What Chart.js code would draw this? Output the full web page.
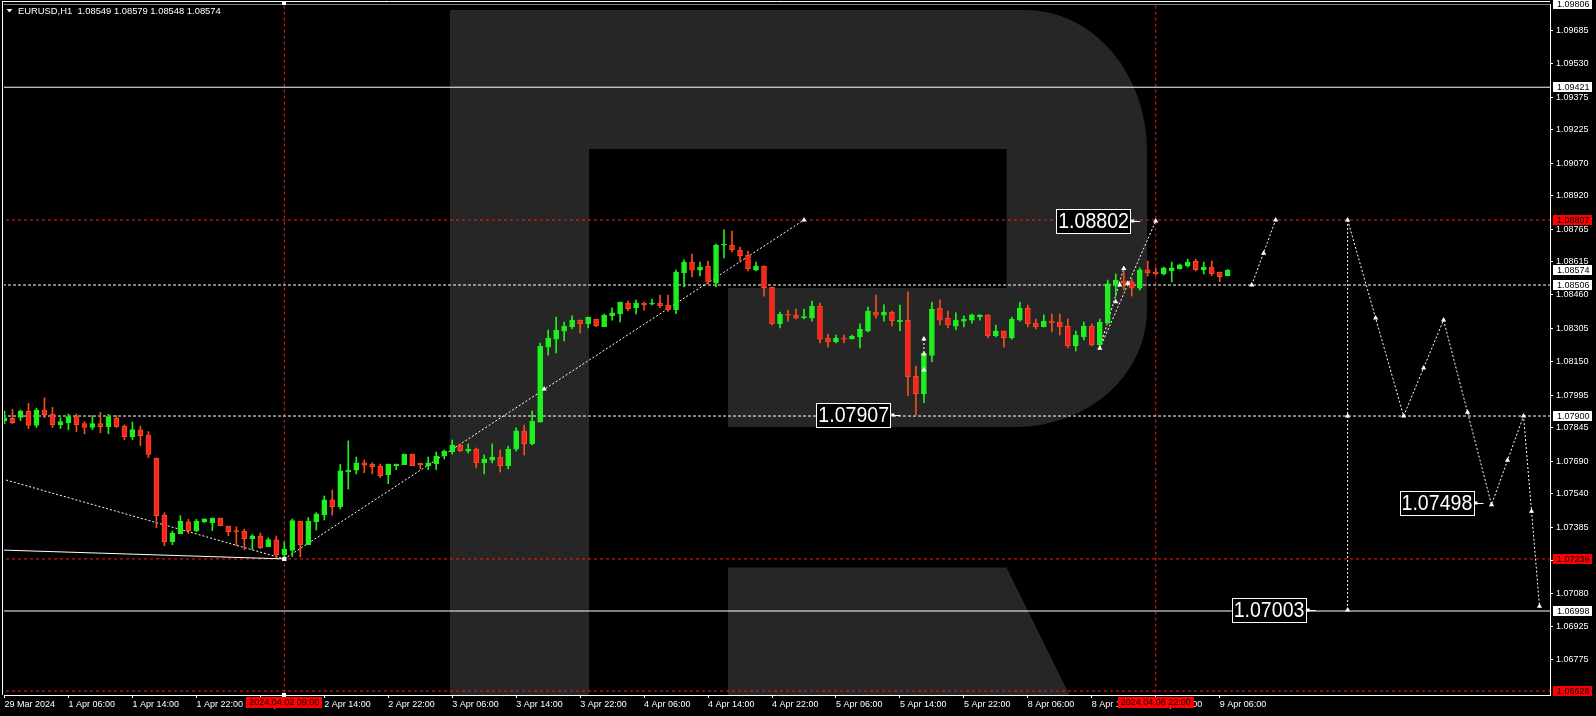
<!DOCTYPE html>
<html><head><meta charset="utf-8">
<script src="https://cdn.jsdelivr.net/npm/chart.js@4.4.1/dist/chart.umd.min.js"></script>
<style>html,body{margin:0;padding:0;background:#000;overflow:hidden}canvas{display:block}</style>
</head><body>
<canvas id="c" width="1596" height="716"></canvas>
<script>
// ---------- DATA ----------
const symbolTitle = 'EURUSD,H1  1.08549 1.08579 1.08548 1.08574';
// H1 bars, index 0 = 29 Mar 2024 22:00 (weekend skipped)
const opens = [1.07879,1.07889,1.07894,1.07923,1.07856,1.07928,1.07909,1.07860,1.07869,1.07897,
1.07865,1.07847,1.07865,1.07851,1.07891,1.07854,1.07805,1.07836,1.07812,1.07706,
1.07442,1.07319,1.07356,1.07410,1.07370,1.07411,1.07407,1.07428,1.07391,1.07368,
1.07368,1.07333,1.07345,1.07296,1.07327,1.07259,1.07278,1.07414,1.07305,1.07411,
1.07442,1.07512,1.07481,1.07643,1.07650,1.07684,1.07678,1.07669,1.07629,1.07670,
1.07675,1.07724,1.07681,1.07670,1.07680,1.07717,1.07735,1.07764,1.07738,1.07747,
1.07683,1.07696,1.07710,1.07670,1.07747,1.07831,1.07771,1.07872,1.08219,1.08256,
1.08293,1.08312,1.08344,1.08326,1.08349,1.08313,1.08364,1.08374,1.08423,1.08401,
1.08423,1.08418,1.08423,1.08412,1.08392,1.08562,1.08612,1.08575,1.08594,1.08515,
1.08690,1.08691,1.08668,1.08645,1.08575,1.08594,1.08497,1.08327,1.08372,1.08367,
1.08355,1.08353,1.08409,1.08261,1.08244,1.08261,1.08258,1.08266,1.08293,1.08381,
1.08367,1.08381,1.08336,1.08344,1.08085,1.08003,1.08180,1.08399,1.08353,1.08316,
1.08339,1.08344,1.08358,1.08368,1.08270,1.08293,1.08261,1.08344,1.08399,1.08330,
1.08313,1.08339,1.08335,1.08316,1.08224,1.08266,1.08316,1.08229,1.08330,1.08506,
1.08525,1.08520,1.08492,1.08576,1.08566,1.08557,1.08571,1.08580,1.08594,1.08617,
1.08577,1.08589,1.08566,1.08549];
const highs = [1.07923,1.07931,1.07928,1.07959,1.07936,1.07984,1.07940,1.07892,1.07909,1.07909,
1.07874,1.07902,1.07917,1.07908,1.07902,1.07859,1.07872,1.07854,1.07828,1.07706,
1.07453,1.07368,1.07439,1.07422,1.07422,1.07424,1.07428,1.07428,1.07391,1.07387,
1.07377,1.07351,1.07359,1.07337,1.07345,1.07317,1.07424,1.07414,1.07430,1.07453,
1.07530,1.07558,1.07677,1.07785,1.07710,1.07696,1.07684,1.07678,1.07678,1.07678,
1.07724,1.07724,1.07683,1.07710,1.07734,1.07743,1.07789,1.07769,1.07771,1.07752,
1.07720,1.07771,1.07743,1.07761,1.07845,1.07858,1.07923,1.08238,1.08298,1.08358,
1.08335,1.08363,1.08344,1.08358,1.08349,1.08372,1.08400,1.08427,1.08432,1.08437,
1.08427,1.08441,1.08460,1.08460,1.08575,1.08622,1.08649,1.08612,1.08617,1.08695,
1.08761,1.08756,1.08682,1.08663,1.08612,1.08594,1.08497,1.08381,1.08390,1.08395,
1.08395,1.08432,1.08423,1.08279,1.08275,1.08275,1.08275,1.08326,1.08404,1.08460,
1.08414,1.08386,1.08413,1.08475,1.08131,1.08198,1.08427,1.08437,1.08386,1.08377,
1.08363,1.08372,1.08368,1.08368,1.08321,1.08293,1.08358,1.08427,1.08413,1.08349,
1.08368,1.08372,1.08372,1.08349,1.08293,1.08335,1.08326,1.08349,1.08529,1.08557,
1.08571,1.08534,1.08585,1.08617,1.08585,1.08589,1.08612,1.08603,1.08626,1.08626,
1.08612,1.08617,1.08566,1.08579];
const lows = [1.07865,1.07865,1.07879,1.07842,1.07847,1.07892,1.07847,1.07842,1.07837,1.07828,
1.07818,1.07837,1.07823,1.07818,1.07847,1.07791,1.07791,1.07763,1.07708,1.07384,
1.07300,1.07305,1.07356,1.07356,1.07365,1.07407,1.07370,1.07393,1.07346,1.07300,
1.07282,1.07282,1.07287,1.07296,1.07245,1.07239,1.07250,1.07249,1.07305,1.07373,
1.07419,1.07442,1.07470,1.07562,1.07632,1.07638,1.07632,1.07615,1.07587,1.07652,
1.07675,1.07670,1.07655,1.07652,1.07652,1.07701,1.07724,1.07735,1.07729,1.07660,
1.07632,1.07683,1.07641,1.07655,1.07738,1.07720,1.07766,1.07872,1.08182,1.08192,
1.08247,1.08303,1.08284,1.08307,1.08313,1.08313,1.08344,1.08335,1.08386,1.08372,
1.08390,1.08414,1.08400,1.08384,1.08374,1.08497,1.08543,1.08548,1.08511,1.08497,
1.08631,1.08659,1.08612,1.08571,1.08571,1.08455,1.08321,1.08307,1.08339,1.08349,
1.08349,1.08339,1.08238,1.08219,1.08238,1.08238,1.08256,1.08215,1.08289,1.08353,
1.08339,1.08316,1.08295,1.07994,1.07905,1.07962,1.08152,1.08321,1.08307,1.08298,
1.08312,1.08330,1.08344,1.08261,1.08266,1.08219,1.08256,1.08339,1.08312,1.08303,
1.08312,1.08289,1.08275,1.08215,1.08201,1.08252,1.08224,1.08224,1.08330,1.08455,
1.08483,1.08455,1.08483,1.08548,1.08552,1.08552,1.08520,1.08580,1.08589,1.08571,
1.08557,1.08549,1.08522,1.08548];
const closes = [1.07892,1.07869,1.07923,1.07856,1.07928,1.07906,1.07860,1.07874,1.07897,1.07860,
1.07847,1.07865,1.07851,1.07897,1.07851,1.07805,1.07837,1.07809,1.07722,1.07439,
1.07319,1.07359,1.07414,1.07370,1.07414,1.07424,1.07428,1.07393,1.07365,1.07365,
1.07333,1.07346,1.07291,1.07328,1.07259,1.07285,1.07416,1.07305,1.07414,1.07447,
1.07512,1.07481,1.07646,1.07650,1.07683,1.07673,1.07666,1.07624,1.07678,1.07678,
1.07724,1.07670,1.07675,1.07683,1.07715,1.07738,1.07766,1.07740,1.07747,1.07684,
1.07701,1.07710,1.07670,1.07747,1.07831,1.07772,1.07877,1.08224,1.08261,1.08298,
1.08316,1.08344,1.08327,1.08358,1.08318,1.08367,1.08377,1.08427,1.08397,1.08423,
1.08414,1.08423,1.08409,1.08392,1.08566,1.08612,1.08575,1.08589,1.08520,1.08691,
1.08693,1.08670,1.08642,1.08580,1.08594,1.08494,1.08326,1.08372,1.08367,1.08353,
1.08358,1.08409,1.08256,1.08244,1.08261,1.08255,1.08270,1.08302,1.08386,1.08367,
1.08381,1.08341,1.08344,1.08082,1.08003,1.08190,1.08395,1.08344,1.08321,1.08344,
1.08349,1.08368,1.08368,1.08270,1.08293,1.08261,1.08349,1.08399,1.08327,1.08313,
1.08339,1.08332,1.08313,1.08224,1.08275,1.08316,1.08229,1.08335,1.08511,1.08529,
1.08514,1.08492,1.08576,1.08563,1.08559,1.08585,1.08585,1.08599,1.08612,1.08577,
1.08589,1.08559,1.08545,1.08574];

const xTickIdx = [0,8,16,24,32,40,48,56,64,72,80,88,96,104,112,120,128,136,144,152];
const xTickLabels = ['29 Mar 2024','1 Apr 06:00','1 Apr 14:00','1 Apr 22:00','2 Apr 06:00','2 Apr 14:00',
 '2 Apr 22:00','3 Apr 06:00','3 Apr 14:00','3 Apr 22:00','4 Apr 06:00','4 Apr 14:00','4 Apr 22:00',
 '5 Apr 06:00','5 Apr 14:00','5 Apr 22:00','8 Apr 06:00','8 Apr 14:00','8 Apr 22:00','9 Apr 06:00'];
const yTickVals = [1.09685,1.09530,1.09375,1.09225,1.09070,1.08920,1.08765,1.08615,1.08460,1.08305,
 1.08150,1.07995,1.07845,1.07690,1.07540,1.07385,1.07230,1.07080,1.06925,1.06775];

const solidLevels = [1.09806, 1.09421, 1.06998];
const whiteDashLevels = [1.08506, 1.07900];
const redDashLevels = [1.08807, 1.07239, 1.06628];
const redVerticalIdx = [35, 144];
const redTimeTags = ['2024.04.02 09:00', '2024.04.08 22:00'];

const priceTagVals = [1.09806, 1.09421, 1.08807, 1.08574, 1.08506, 1.07900, 1.07239, 1.06998, 1.06628];
const priceTagRed  = [false, false, true, false, false, false, true, false, true];

// trend lines: [index, price]
const trendSolid = [[-0.3, 1.07280], [35, 1.07239]];
const trendDashA = [[0.2, 1.07604], [35, 1.07239]];
const trendDashB = [[35, 1.07239], [100, 1.08807]];
const trendDashC = [[137, 1.08213], [144, 1.08802]];
const trendDashD = [[137, 1.08213], [140, 1.08583]];
const trendDashE = [[115, 1.08256], [115, 1.08113]];
const forecastA = [[156, 1.08506], [159, 1.08807]];
const forecastB = [[168, 1.08807], [175, 1.07900], [180, 1.08344], [186, 1.07490], [190, 1.07900], [192, 1.07020]];
const forecastV = [[168, 1.08807], [168, 1.07003]];
const markerPts = [[67.5,1.08025],[100,1.08807],[115,1.08256],[115,1.08187],[115,1.08113],
 [137,1.08213],[139,1.08429],[140,1.08583],[139.5,1.08506],[140.5,1.08514],[144,1.08802],
 [156,1.08506],[157.5,1.08653],[159,1.08807],[168,1.08807],[168,1.07900],[168,1.07003],
 [171.5,1.08353],[175,1.07900],[177.5,1.08122],[180,1.08344],[183,1.07917],[186,1.07490],
 [188,1.07695],[190,1.07900],[191,1.07460],[192,1.07020]];
const squarePts = [[35, 1.07239]];

// callout labels: text, tip index, tip price
const calloutText = ['1.08802', '1.07907', '1.07498', '1.07003'];
const calloutIdx = [142.05, 112.05, 185, 164];
const calloutPrice = [1.08802, 1.07907, 1.07498, 1.07003];

// ---------- BUILD ----------
const Y_MIN = 1.066095, Y_MAX = 1.09806;
const X_MIN = -0.0625, X_MAX = 193.3125;
const FONT = "'Liberation Sans', Arial, sans-serif";
const GREEN = '#1ff01f', RED = '#ff2020', RED_EDGE = '#f0501e';

const idx = opens.map((_, i) => i);
const up = idx.map(i => closes[i] >= opens[i]);
const pts = a => a.map(p => ({x: p[0], y: p[1]}));
const lineDs = (data, color, dash, order) => ({type: 'line', data: pts(data), borderColor: color, borderWidth: 1,
  borderDash: dash, pointRadius: 0, tension: 0, fill: false, order: order});

const datasets = [];
solidLevels.forEach(v => datasets.push(lineDs([[X_MIN - 2, v], [X_MAX + 2, v]], '#ffffff', [], 20)));
whiteDashLevels.forEach(v => datasets.push(lineDs([[X_MIN - 2, v], [X_MAX + 2, v]], '#ffffff', [3, 2], 20)));
redDashLevels.forEach(v => datasets.push(lineDs([[X_MIN - 2, v], [X_MAX + 2, v]], '#ff1a1a', [3, 3], 20)));
redVerticalIdx.forEach(k => datasets.push(lineDs([[k, Y_MIN - 0.001], [k, Y_MAX + 0.001]], '#ff1a1a', [3, 3], 20)));
datasets.push(lineDs(trendSolid, '#ffffff', [], 15));
[trendDashA, trendDashB, trendDashC, trendDashD, trendDashE].forEach(t => datasets.push(lineDs(t, '#ffffff', [2, 2], 15)));
[forecastA, forecastB, forecastV].forEach(t => datasets.push(lineDs(t, '#ffffff', [2, 2], 1)));

datasets.push({type: 'bar', data: idx.map(i => ({x: i, y: [lows[i], highs[i]]})),
  backgroundColor: idx.map(i => up[i] ? GREEN : RED_EDGE), borderWidth: 0,
  barThickness: 1, grouped: false, order: 6});
datasets.push({type: 'bar', data: idx.map(i => ({x: i, y: [opens[i], closes[i]]})),
  backgroundColor: idx.map(i => up[i] ? GREEN : RED), borderColor: idx.map(i => up[i] ? GREEN : RED_EDGE),
  borderWidth: 1, borderSkipped: false, barThickness: 5, minBarLength: 1, grouped: false, order: 5});

datasets.push({type: 'line', data: pts(markerPts), showLine: false, pointStyle: 'triangle', pointRadius: 3,
  pointBackgroundColor: '#fff', pointBorderColor: '#fff', pointBorderWidth: 0, order: 0});
datasets.push({type: 'line', data: pts(squarePts), showLine: false, pointStyle: 'rect', pointRadius: 3,
  pointBackgroundColor: '#fff', pointBorderColor: '#fff', pointBorderWidth: 0, order: 0});

// ---------- PLUGINS ----------
const bgPlugin = {
  id: 'bg',
  beforeDraw(chart) {
    const c = chart.ctx; c.save(); c.fillStyle = '#000'; c.fillRect(0, 0, chart.width, chart.height); c.restore();
  },
  beforeDatasetsDraw(chart) {
    const c = chart.ctx, a = chart.chartArea;
    c.save();
    c.beginPath(); c.rect(a.left, a.top, a.right - a.left, a.bottom - a.top); c.clip();
    c.fillStyle = '#262626';
    c.fillRect(450, 10, 139, 700);
    c.beginPath();
    c.moveTo(589, 10);
    c.lineTo(1026, 10);
    c.ellipse(1026, 151, 121, 141, 0, -Math.PI / 2, 0, false);
    c.lineTo(1147, 310);
    c.ellipse(1016, 310, 131, 117, 0, 0, Math.PI / 2, false);
    c.lineTo(728, 427);
    c.lineTo(728, 288);
    c.lineTo(1006.5, 288);
    c.lineTo(1006.5, 149);
    c.lineTo(589, 149);
    c.closePath();
    c.fill();
    c.beginPath();
    c.moveTo(728, 567.6); c.lineTo(1006.5, 567.6); c.lineTo(1072, 700); c.lineTo(728, 700); c.closePath();
    c.fill();
    c.restore();
  },
  afterDraw(chart) {
    const c = chart.ctx, a = chart.chartArea;
    const xs = chart.scales.x, ys = chart.scales.y;
    c.save();
    // frame
    c.strokeStyle = '#fff'; c.lineWidth = 1;
    c.beginPath();
    c.moveTo(2.5, 1.5); c.lineTo(a.right, 1.5);
    c.moveTo(2.5, 1); c.lineTo(2.5, a.bottom);
    c.stroke();
    // small anchor squares of the first vertical line
    const vx = Math.round(xs.getPixelForValue(redVerticalIdx[0]));
    c.fillStyle = '#fff';
    c.fillRect(vx - 2, 1, 4, 4);
    c.fillRect(vx - 2, a.bottom - 2, 4, 4);
    // header
    c.fillStyle = '#fff';
    c.beginPath(); c.moveTo(6.5, 9); c.lineTo(12.5, 9); c.lineTo(9.5, 12.5); c.closePath(); c.fill();
    c.font = '9.4px ' + FONT; c.textBaseline = 'middle'; c.textAlign = 'left';
    c.fillText(symbolTitle, 18, 11);
    // callouts
    calloutText.forEach((t, i) => {
      const tx = xs.getPixelForValue(calloutIdx[i]);
      const ty = Math.round(ys.getPixelForValue(calloutPrice[i]));
      const right = tx - 10, w = 74, h = 24;
      const left = right - w, top = ty - h / 2;
      c.fillStyle = '#000'; c.fillRect(left, top, w, h);
      c.strokeStyle = '#fff'; c.lineWidth = 1;
      c.strokeRect(Math.round(left) + 0.5, Math.round(top) + 0.5, w, h);
      c.fillStyle = '#fff';
      c.fillRect(right + 1, ty - 1.5, 3, 3);
      c.beginPath(); c.moveTo(right + 3, ty + 0.5); c.lineTo(tx, ty + 0.5); c.stroke();
      c.save();
      c.translate(left + 2, ty + 1);
      c.scale(0.89, 1);
      c.font = '22px ' + FONT; c.textAlign = 'left'; c.textBaseline = 'middle';
      c.fillText(t, 0, 0);
      c.restore();
    });
    // price tags on y axis
    c.font = '9px ' + FONT; c.textBaseline = 'middle'; c.textAlign = 'left';
    priceTagVals.forEach((v, i) => {
      const y = ys.getPixelForValue(v);
      c.fillStyle = priceTagRed[i] ? '#ff0000' : '#ffffff';
      c.fillRect(a.right + 3, Math.round(y) - 5, 39, 10);
      c.fillStyle = '#000';
      c.fillText(v.toFixed(5), a.right + 7, Math.round(y) + 0.5);
    });
    // red time tags on x axis
    c.textAlign = 'center';
    redVerticalIdx.forEach((k, i) => {
      const x = xs.getPixelForValue(k);
      c.fillStyle = '#ff0000';
      c.fillRect(Math.round(x) - 38, a.bottom + 2, 76, 11);
      c.fillStyle = '#000';
      c.fillText(redTimeTags[i], x, a.bottom + 8);
    });
    c.restore();
  }
};

new Chart(document.getElementById('c'), {
  type: 'bar',
  data: {datasets},
  plugins: [bgPlugin],
  options: {
    responsive: false, animation: false, devicePixelRatio: 1,
    layout: {padding: {left: 3, top: 4, right: 0, bottom: 0}},
    plugins: {legend: {display: false}, tooltip: {enabled: false}},
    scales: {
      x: {
        type: 'linear', min: X_MIN, max: X_MAX, position: 'bottom', offset: false,
        afterBuildTicks: s => { s.ticks = xTickIdx.map(v => ({value: v})); },
        afterFit: s => { s.height = 21; s.paddingLeft = 0; s.paddingRight = 0; },
        grid: {display: true, offset: false, drawOnChartArea: false, drawTicks: true, tickLength: 3, color: '#fff'},
        border: {display: true, color: '#fff', width: 1},
        ticks: {autoSkip: false, maxRotation: 0, minRotation: 0, align: 'start', padding: 1, color: '#fff',
          font: {family: FONT, size: 9}, callback: (v, i) => xTickLabels[i]}
      },
      y: {
        type: 'linear', position: 'right', min: Y_MIN, max: Y_MAX,
        afterBuildTicks: s => { s.ticks = yTickVals.map(v => ({value: v})); },
        afterFit: s => { s.width = 46; s.paddingTop = 0; s.paddingBottom = 0; },
        grid: {display: true, drawOnChartArea: false, drawTicks: true, tickLength: 3, color: '#fff'},
        border: {display: true, color: '#fff', width: 1},
        ticks: {autoSkip: false, padding: 3, color: '#fff', font: {family: FONT, size: 9},
          callback: v => Number(v).toFixed(5)}
      }
    }
  }
});
</script>
</body></html>
